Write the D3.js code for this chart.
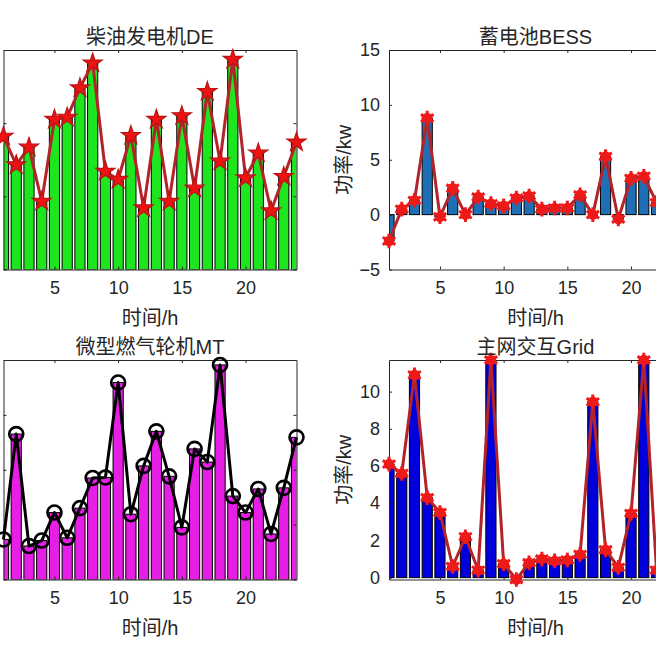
<!DOCTYPE html>
<html><head><meta charset="utf-8">
<script src="https://cdn.jsdelivr.net/npm/d3@7"></script>
<style>html,body{margin:0;padding:0;background:#fff;} svg{display:block;}</style>
</head><body>
<svg id="chart" width="656" height="656"></svg>
<script>
// ---------- data ----------
const hours = [1,2,3,4,5,6,7,8,9,10,11,12,13,14,15,16,17,18,19,20,21,22,23,24];
const xTicks = [5,10,15,20];

const deValues   = [18.2,14.3,16.7,9.3,20.5,20.8,24.8,28.2,13.4,12.3,18.3,8.4,20.5,9.3,21.0,11.1,24.3,14.8,28.7,12.5,15.9,8.0,12.7,17.4];
const bessValues = [-2.4,0.5,1.3,8.8,-0.2,2.4,0.0,1.6,1.0,0.8,1.5,1.7,0.5,0.6,0.6,1.8,0.0,5.3,-0.4,3.3,3.5,1.1,0.6,0.4];
const mtValues   = [7.3,26.5,6.1,7.1,12.2,7.6,13.0,18.5,18.6,35.9,11.9,20.7,27.0,18.8,9.5,23.8,21.4,39.1,15.2,12.2,16.5,8.3,16.7,25.9];
const gridValues = [6.1,5.6,10.9,4.3,3.5,0.6,2.2,0.4,11.7,0.75,-0.1,0.8,1.0,0.9,0.95,1.25,9.45,1.5,0.55,3.45,11.7,0.4,2.0,5.0];

const titles = ["柴油发电机DE","蓄电池BESS","微型燃气轮机MT","主网交互Grid"];
const xLabel = "时间/h";
const yLabel = "功率/kw";

const deYDomain = [0,30],     deYTicks = [0,10,20,30];
const bessYDomain = [-5,15],  bessYTicks = [-5,0,5,10,15];
const mtYDomain = [0,40],     mtYTicks = [0,10,20,30,40];
const gridYDomain = [-0.1,11.7], gridYTicks = [0,2,4,6,8,10];

// ---------- layout ----------
const svg = d3.select("#chart");
const TXT = "#262626";
const tickFont = "'Liberation Sans', Arial, 'Noto Sans CJK SC', sans-serif";
const cjkFont = "'Liberation Sans', Arial, 'Noto Sans CJK SC', sans-serif";

const panels = [
  {title:titles[0], values:deValues, yDomain:deYDomain, yTicks:deYTicks, x0:3.5, y0:50, showY:false,
   barFill:"#1ee61e", lineColor:"#b3242a", marker:"star"},
  {title:titles[1], values:bessValues, yDomain:bessYDomain, yTicks:bessYTicks, x0:389, y0:50, showY:true,
   barFill:"#1f6fb6", lineColor:"#b3242a", marker:"asterisk"},
  {title:titles[2], values:mtValues, yDomain:mtYDomain, yTicks:mtYTicks, x0:3.5, y0:360, showY:false,
   barFill:"#e61ee6", lineColor:"#000000", marker:"circle"},
  {title:titles[3], values:gridValues, yDomain:gridYDomain, yTicks:gridYTicks, x0:389, y0:360, showY:true,
   barFill:"#0000dc", lineColor:"#b3242a", marker:"asterisk"}
];
const W = 293, H = 219.5;

panels.forEach((p, i) => {
  const g = svg.append("g").attr("transform", `translate(${p.x0},${p.y0})`);
  const x = d3.scaleLinear().domain([1,24]).range([0,W]);
  const y = d3.scaleLinear().domain(p.yDomain).range([H,0]);
  const data = hours.map((h,k)=>({h, v:p.values[k]}));

  const clipId = "clip"+i;
  g.append("clipPath").attr("id",clipId).append("rect").attr("width",W).attr("height",H);

  // bars
  const bw = 0.8;
  g.append("g").attr("clip-path",`url(#${clipId})`).selectAll("rect").data(data).join("rect")
    .attr("x", d=>x(d.h-bw/2))
    .attr("width", d=>x(d.h+bw/2)-x(d.h-bw/2))
    .attr("y", d=>Math.min(y(0),y(d.v)))
    .attr("height", d=>Math.abs(y(d.v)-y(0)))
    .attr("fill", p.barFill).attr("stroke","#000").attr("stroke-width",1);

  // axes (inward ticks, box)
  const ax = (gen, tr) => {
    const a = g.append("g").attr("transform", tr).call(gen);
    a.select(".domain").attr("stroke",TXT).attr("stroke-width",1);
    a.selectAll(".tick line").attr("stroke",TXT);
    a.selectAll("text").attr("fill",TXT).style("font-family",tickFont).style("font-size","18px");
    return a;
  };
  ax(d3.axisBottom(x).tickValues(xTicks).tickSizeInner(-3).tickSizeOuter(0).tickPadding(12), `translate(0,${H})`);
  ax(d3.axisTop(x).tickValues(xTicks).tickSizeInner(-3).tickSizeOuter(0).tickFormat(""), `translate(0,0)`);
  ax(d3.axisLeft(y).tickValues(p.yTicks).tickSizeInner(-3).tickSizeOuter(0).tickPadding(9)
      .tickFormat(p.showY ? d3.format("d") : ""), `translate(0,0)`);
  ax(d3.axisRight(y).tickValues(p.yTicks).tickSizeInner(-3).tickSizeOuter(0).tickFormat(""), `translate(${W},0)`);

  // line
  g.append("path").datum(data)
    .attr("d", d3.line().x(d=>x(d.h)).y(d=>y(d.v)))
    .attr("fill","none").attr("stroke",p.lineColor).attr("stroke-width",3).attr("stroke-linejoin","round");

  // markers
  const mk = g.append("g");
  if (p.marker === "star") {
    mk.selectAll("path").data(data).join("path")
      .attr("transform", d=>`translate(${x(d.h)},${y(d.v)})`)
      .attr("d", d3.symbol(d3.symbolStar, 112)())
      .attr("fill","#ee1212").attr("stroke","#b81414").attr("stroke-width",1.2);
  } else if (p.marker === "asterisk") {
    mk.selectAll("circle").data(data).join("circle")
      .attr("cx", d=>x(d.h)).attr("cy", d=>y(d.v)).attr("r",5.3).attr("fill","#ee1a1a");
    mk.selectAll("path").data(data).join("path")
      .attr("transform", d=>`translate(${x(d.h)},${y(d.v)})`)
      .attr("d", d3.symbol(d3.symbolAsterisk, 150)())
      .attr("fill","none").attr("stroke","#ee1a1a").attr("stroke-width",3);
  } else {
    mk.selectAll("circle").data(data).join("circle")
      .attr("cx", d=>x(d.h)).attr("cy", d=>y(d.v)).attr("r",7)
      .attr("fill","none").attr("stroke","#000").attr("stroke-width",2.6);
  }

  // title
  g.append("text").attr("x",W/2).attr("y",-6).attr("text-anchor","middle")
    .attr("fill",TXT).style("font-family",cjkFont).style("font-size","20px").text(p.title);
  // x label
  g.append("text").attr("x",W/2).attr("y",H+55).attr("text-anchor","middle")
    .attr("fill",TXT).style("font-family",cjkFont).style("font-size","20px").text(xLabel);
  // y label
  if (p.showY) {
    g.append("text").attr("transform",`translate(-38,${H/2}) rotate(-90)`).attr("text-anchor","middle")
      .attr("fill",TXT).style("font-family",cjkFont).style("font-size","20px").text(yLabel);
  }
});
</script>
</body></html>
